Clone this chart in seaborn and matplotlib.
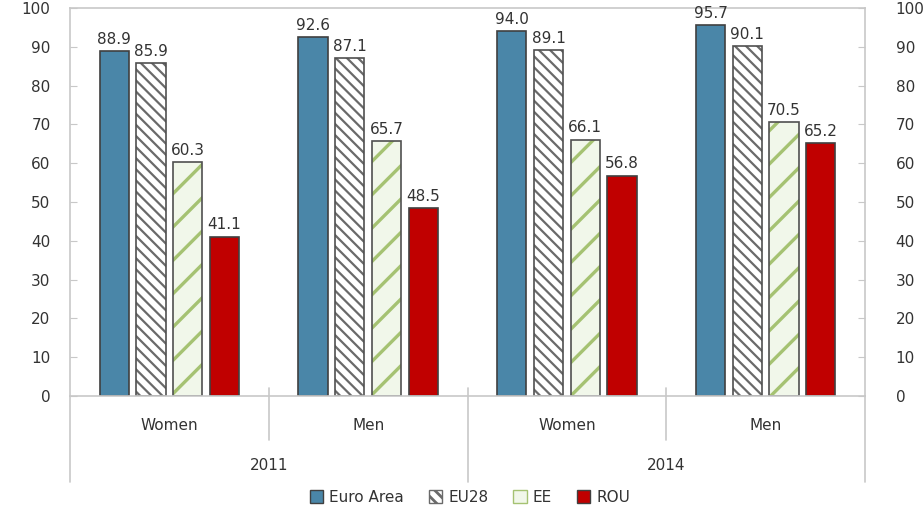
import pandas as pd
import seaborn as sns
import matplotlib.pyplot as plt
import matplotlib.patches as mpatches
import matplotlib.transforms as mtransforms

years = ["2011", "2011", "2014", "2014"]
sexes = ["Women", "Men", "Women", "Men"]
series = ["Euro Area", "EU28", "EE", "ROU"]
euro_area = [88.9, 92.6, 94.0, 95.7]
eu28 = [85.9, 87.1, 89.1, 90.1]
ee = [60.3, 65.7, 66.1, 70.5]
rou = [41.1, 48.5, 56.8, 65.2]
yticks = list(range(0, 101, 10))

values = {"Euro Area": euro_area, "EU28": eu28, "EE": ee, "ROU": rou}
rows = []
for s in series:
    for i in range(len(years)):
        rows.append({"group": years[i] + " " + sexes[i], "series": s, "value": values[s][i]})
df = pd.DataFrame(rows)
order = [y + " " + x for y, x in zip(years, sexes)]

# style per series: face, hatch colour, hatch, hatch width
styles = {
    "Euro Area": ("#4A86A8", "#3a3a3a", None, 0),
    "EU28": ("#ffffff", "#6a6a6a", "\\" * 3, 1.6),
    "EE": ("#f1f7ea", "#a5c272", "/", 2.4),
    "ROU": ("#C00000", "#3a3a3a", None, 0),
}

sns.set_style("white")
plt.rcParams["font.family"] = ["DejaVu Sans"]
plt.rcParams["hatch.linewidth"] = 2.0
txt = "#333333"
grey = "#c8c8c8"

fig = plt.figure(figsize=(9.24, 5.12), dpi=100)
ax = fig.add_axes([70 / 924, 1 - 396 / 512, 795 / 924, 388 / 512])

sns.barplot(data=df, x="group", y="value", hue="series", order=order,
            hue_order=series, width=0.74, gap=0.2, ax=ax, legend=False)

for cont, s in zip(ax.containers, series):
    face, hcol, hatch, hlw = styles[s]
    for p in cont.patches:
        p.set_facecolor(face)
        if hatch:
            p.set_hatch(hatch)
            p.set_edgecolor(hcol)
            p.set_linewidth(0)
            if hasattr(p, "set_hatch_linewidth"):
                p.set_hatch_linewidth(hlw)
            outline = mpatches.Rectangle(p.get_xy(), p.get_width(), p.get_height(),
                                         fill=False, edgecolor="#505050", linewidth=1.2, zorder=p.zorder + 0.1)
            ax.add_patch(outline)
        else:
            p.set_edgecolor("#404040")
            p.set_linewidth(1.2)
    ax.bar_label(cont, fmt="%.1f", padding=3, fontsize=11, color=txt)

ax.set_ylim(0, 100)
ax.set_xlim(-0.5, len(order) - 0.5)
ax.set_yticks(yticks)
ax.set_xticks([])
ax.set_xlabel("")
ax.set_ylabel("")
ax.tick_params(axis="y", left=True, direction="in", length=5, color=grey,
               labelsize=11, labelcolor=txt, pad=14)
for sp in ax.spines.values():
    sp.set_visible(True)
    sp.set_color(grey)
    sp.set_linewidth(1.2)

# right-hand axis with the same scale
ax2 = ax.twinx()
ax2.set_ylim(ax.get_ylim())
ax2.set_yticks(yticks)
ax2.tick_params(axis="y", right=True, direction="in", length=5, color=grey,
                labelsize=11, labelcolor=txt, pad=22)
for sp in ax2.spines.values():
    sp.set_visible(False)

# multi-level category axis
trans = mtransforms.blended_transform_factory(ax.transData, fig.transFigure)
y_axis = 1 - 396 / 512
y_inner = 1 - 440 / 512
y_outer = 1 - 482 / 512
for i, sx in enumerate(sexes):
    ax.text(i, 1 - 425 / 512, sx, transform=trans, ha="center", va="center", fontsize=11, color=txt)
for j, yr in enumerate(["2011", "2014"]):
    ax.text(2 * j + 0.5, 1 - 465 / 512, yr, transform=trans, ha="center", va="center", fontsize=11, color=txt)
for b in [0.5, 2.5]:
    ax.plot([b, b], [y_axis + 0.015, y_inner], transform=trans, color=grey, lw=1.2, clip_on=False)
for b in [-0.5, 1.5, 3.5]:
    ax.plot([b, b], [y_axis + 0.015 if b == 1.5 else y_axis, y_outer], transform=trans,
            color=grey, lw=1.2, clip_on=False)

handles = []
for s in series:
    face, hcol, hatch, hlw = styles[s]
    handles.append(mpatches.Patch(facecolor=face, edgecolor=hcol if hatch else "#404040",
                                  hatch=hatch, linewidth=1))
fig.legend(handles, series, loc="center", bbox_to_anchor=(470 / 924, 1 - 497 / 512), ncol=4,
           frameon=False, fontsize=11, handlelength=0.9, handleheight=0.9, handletextpad=0.4,
           columnspacing=1.6, labelcolor=txt)

fig.savefig("out.png", dpi=100)
